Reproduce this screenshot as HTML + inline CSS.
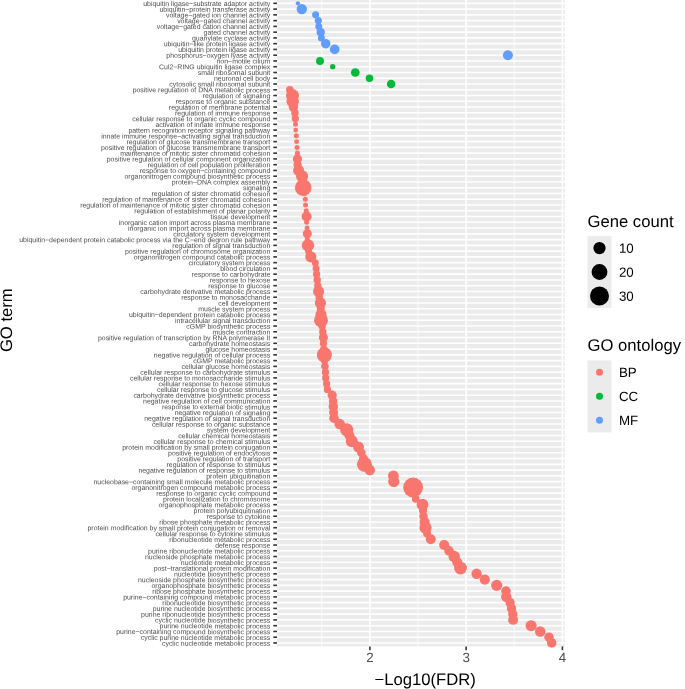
<!DOCTYPE html>
<html><head><meta charset="utf-8"><title>GO enrichment dot plot</title><style>
html,body{margin:0;padding:0;background:#fff;}
body{width:685px;height:689px;overflow:hidden;}
svg{display:block;will-change:transform;}
text{font-family:"Liberation Sans",sans-serif;}
</style></head><body>
<svg width="685" height="689" viewBox="0 0 685 689">
<rect x="0" y="0" width="685" height="689" fill="#fff"/>
<rect x="277.2" y="-0.2" width="287.70" height="646.60" fill="#EBEBEB"/>
<line x1="321.77" y1="-0.2" x2="321.77" y2="646.4" stroke="#fff" stroke-width="0.8"/>
<line x1="418.02" y1="-0.2" x2="418.02" y2="646.4" stroke="#fff" stroke-width="0.8"/>
<line x1="514.27" y1="-0.2" x2="514.27" y2="646.4" stroke="#fff" stroke-width="0.8"/>
<g stroke="#fff" stroke-width="1.6">
<line x1="277.2" y1="3.33" x2="564.9" y2="3.33"/><line x1="277.2" y1="9.09" x2="564.9" y2="9.09"/><line x1="277.2" y1="14.86" x2="564.9" y2="14.86"/><line x1="277.2" y1="20.62" x2="564.9" y2="20.62"/><line x1="277.2" y1="26.38" x2="564.9" y2="26.38"/><line x1="277.2" y1="32.14" x2="564.9" y2="32.14"/><line x1="277.2" y1="37.91" x2="564.9" y2="37.91"/><line x1="277.2" y1="43.67" x2="564.9" y2="43.67"/><line x1="277.2" y1="49.43" x2="564.9" y2="49.43"/><line x1="277.2" y1="55.19" x2="564.9" y2="55.19"/><line x1="277.2" y1="60.95" x2="564.9" y2="60.95"/><line x1="277.2" y1="66.72" x2="564.9" y2="66.72"/><line x1="277.2" y1="72.48" x2="564.9" y2="72.48"/><line x1="277.2" y1="78.24" x2="564.9" y2="78.24"/><line x1="277.2" y1="84.00" x2="564.9" y2="84.00"/><line x1="277.2" y1="89.77" x2="564.9" y2="89.77"/><line x1="277.2" y1="95.53" x2="564.9" y2="95.53"/><line x1="277.2" y1="101.29" x2="564.9" y2="101.29"/><line x1="277.2" y1="107.06" x2="564.9" y2="107.06"/><line x1="277.2" y1="112.82" x2="564.9" y2="112.82"/><line x1="277.2" y1="118.58" x2="564.9" y2="118.58"/><line x1="277.2" y1="124.34" x2="564.9" y2="124.34"/><line x1="277.2" y1="130.11" x2="564.9" y2="130.11"/><line x1="277.2" y1="135.87" x2="564.9" y2="135.87"/><line x1="277.2" y1="141.63" x2="564.9" y2="141.63"/><line x1="277.2" y1="147.39" x2="564.9" y2="147.39"/><line x1="277.2" y1="153.16" x2="564.9" y2="153.16"/><line x1="277.2" y1="158.92" x2="564.9" y2="158.92"/><line x1="277.2" y1="164.68" x2="564.9" y2="164.68"/><line x1="277.2" y1="170.44" x2="564.9" y2="170.44"/><line x1="277.2" y1="176.21" x2="564.9" y2="176.21"/><line x1="277.2" y1="181.97" x2="564.9" y2="181.97"/><line x1="277.2" y1="187.73" x2="564.9" y2="187.73"/><line x1="277.2" y1="193.49" x2="564.9" y2="193.49"/><line x1="277.2" y1="199.26" x2="564.9" y2="199.26"/><line x1="277.2" y1="205.02" x2="564.9" y2="205.02"/><line x1="277.2" y1="210.78" x2="564.9" y2="210.78"/><line x1="277.2" y1="216.54" x2="564.9" y2="216.54"/><line x1="277.2" y1="222.31" x2="564.9" y2="222.31"/><line x1="277.2" y1="228.07" x2="564.9" y2="228.07"/><line x1="277.2" y1="233.83" x2="564.9" y2="233.83"/><line x1="277.2" y1="239.59" x2="564.9" y2="239.59"/><line x1="277.2" y1="245.36" x2="564.9" y2="245.36"/><line x1="277.2" y1="251.12" x2="564.9" y2="251.12"/><line x1="277.2" y1="256.88" x2="564.9" y2="256.88"/><line x1="277.2" y1="262.64" x2="564.9" y2="262.64"/><line x1="277.2" y1="268.40" x2="564.9" y2="268.40"/><line x1="277.2" y1="274.17" x2="564.9" y2="274.17"/><line x1="277.2" y1="279.93" x2="564.9" y2="279.93"/><line x1="277.2" y1="285.69" x2="564.9" y2="285.69"/><line x1="277.2" y1="291.45" x2="564.9" y2="291.45"/><line x1="277.2" y1="297.22" x2="564.9" y2="297.22"/><line x1="277.2" y1="302.98" x2="564.9" y2="302.98"/><line x1="277.2" y1="308.74" x2="564.9" y2="308.74"/><line x1="277.2" y1="314.50" x2="564.9" y2="314.50"/><line x1="277.2" y1="320.27" x2="564.9" y2="320.27"/><line x1="277.2" y1="326.03" x2="564.9" y2="326.03"/><line x1="277.2" y1="331.79" x2="564.9" y2="331.79"/><line x1="277.2" y1="337.56" x2="564.9" y2="337.56"/><line x1="277.2" y1="343.32" x2="564.9" y2="343.32"/><line x1="277.2" y1="349.08" x2="564.9" y2="349.08"/><line x1="277.2" y1="354.84" x2="564.9" y2="354.84"/><line x1="277.2" y1="360.61" x2="564.9" y2="360.61"/><line x1="277.2" y1="366.37" x2="564.9" y2="366.37"/><line x1="277.2" y1="372.13" x2="564.9" y2="372.13"/><line x1="277.2" y1="377.89" x2="564.9" y2="377.89"/><line x1="277.2" y1="383.65" x2="564.9" y2="383.65"/><line x1="277.2" y1="389.42" x2="564.9" y2="389.42"/><line x1="277.2" y1="395.18" x2="564.9" y2="395.18"/><line x1="277.2" y1="400.94" x2="564.9" y2="400.94"/><line x1="277.2" y1="406.70" x2="564.9" y2="406.70"/><line x1="277.2" y1="412.47" x2="564.9" y2="412.47"/><line x1="277.2" y1="418.23" x2="564.9" y2="418.23"/><line x1="277.2" y1="423.99" x2="564.9" y2="423.99"/><line x1="277.2" y1="429.75" x2="564.9" y2="429.75"/><line x1="277.2" y1="435.52" x2="564.9" y2="435.52"/><line x1="277.2" y1="441.28" x2="564.9" y2="441.28"/><line x1="277.2" y1="447.04" x2="564.9" y2="447.04"/><line x1="277.2" y1="452.81" x2="564.9" y2="452.81"/><line x1="277.2" y1="458.57" x2="564.9" y2="458.57"/><line x1="277.2" y1="464.33" x2="564.9" y2="464.33"/><line x1="277.2" y1="470.09" x2="564.9" y2="470.09"/><line x1="277.2" y1="475.86" x2="564.9" y2="475.86"/><line x1="277.2" y1="481.62" x2="564.9" y2="481.62"/><line x1="277.2" y1="487.38" x2="564.9" y2="487.38"/><line x1="277.2" y1="493.14" x2="564.9" y2="493.14"/><line x1="277.2" y1="498.90" x2="564.9" y2="498.90"/><line x1="277.2" y1="504.67" x2="564.9" y2="504.67"/><line x1="277.2" y1="510.43" x2="564.9" y2="510.43"/><line x1="277.2" y1="516.19" x2="564.9" y2="516.19"/><line x1="277.2" y1="521.96" x2="564.9" y2="521.96"/><line x1="277.2" y1="527.72" x2="564.9" y2="527.72"/><line x1="277.2" y1="533.48" x2="564.9" y2="533.48"/><line x1="277.2" y1="539.24" x2="564.9" y2="539.24"/><line x1="277.2" y1="545.01" x2="564.9" y2="545.01"/><line x1="277.2" y1="550.77" x2="564.9" y2="550.77"/><line x1="277.2" y1="556.53" x2="564.9" y2="556.53"/><line x1="277.2" y1="562.29" x2="564.9" y2="562.29"/><line x1="277.2" y1="568.06" x2="564.9" y2="568.06"/><line x1="277.2" y1="573.82" x2="564.9" y2="573.82"/><line x1="277.2" y1="579.58" x2="564.9" y2="579.58"/><line x1="277.2" y1="585.34" x2="564.9" y2="585.34"/><line x1="277.2" y1="591.11" x2="564.9" y2="591.11"/><line x1="277.2" y1="596.87" x2="564.9" y2="596.87"/><line x1="277.2" y1="602.63" x2="564.9" y2="602.63"/><line x1="277.2" y1="608.39" x2="564.9" y2="608.39"/><line x1="277.2" y1="614.16" x2="564.9" y2="614.16"/><line x1="277.2" y1="619.92" x2="564.9" y2="619.92"/><line x1="277.2" y1="625.68" x2="564.9" y2="625.68"/><line x1="277.2" y1="631.44" x2="564.9" y2="631.44"/><line x1="277.2" y1="637.21" x2="564.9" y2="637.21"/><line x1="277.2" y1="642.97" x2="564.9" y2="642.97"/>
</g>
<line x1="369.90" y1="-0.2" x2="369.90" y2="646.4" stroke="#fff" stroke-width="1.6"/>
<line x1="466.15" y1="-0.2" x2="466.15" y2="646.4" stroke="#fff" stroke-width="1.6"/>
<line x1="562.40" y1="-0.2" x2="562.40" y2="646.4" stroke="#fff" stroke-width="1.6"/>
<g>
<circle cx="297.9" cy="3.33" r="2.15" fill="#619CFF"/><circle cx="301.8" cy="9.09" r="5.20" fill="#619CFF"/><circle cx="315.6" cy="14.86" r="3.50" fill="#619CFF"/><circle cx="318.3" cy="20.62" r="3.60" fill="#619CFF"/><circle cx="318.8" cy="26.38" r="3.50" fill="#619CFF"/><circle cx="320.7" cy="32.14" r="4.10" fill="#619CFF"/><circle cx="321.4" cy="37.91" r="3.50" fill="#619CFF"/><circle cx="325.7" cy="43.67" r="4.75" fill="#619CFF"/><circle cx="334.7" cy="49.43" r="4.85" fill="#619CFF"/><circle cx="507.9" cy="55.19" r="5.00" fill="#619CFF"/><circle cx="320.0" cy="60.95" r="3.95" fill="#00BA38"/><circle cx="332.7" cy="66.72" r="2.65" fill="#00BA38"/><circle cx="355.3" cy="72.48" r="4.35" fill="#00BA38"/><circle cx="369.5" cy="78.24" r="3.75" fill="#00BA38"/><circle cx="391.1" cy="84.00" r="4.25" fill="#00BA38"/><circle cx="289.8" cy="89.77" r="3.80" fill="#F8766D"/><circle cx="292.5" cy="95.53" r="6.50" fill="#F8766D"/><circle cx="292.7" cy="101.29" r="6.20" fill="#F8766D"/><circle cx="293.4" cy="107.06" r="4.70" fill="#F8766D"/><circle cx="294.9" cy="112.82" r="3.75" fill="#F8766D"/><circle cx="295.3" cy="118.58" r="3.65" fill="#F8766D"/><circle cx="295.5" cy="124.34" r="2.50" fill="#F8766D"/><circle cx="295.7" cy="130.11" r="2.40" fill="#F8766D"/><circle cx="296.3" cy="135.87" r="2.50" fill="#F8766D"/><circle cx="296.6" cy="141.63" r="2.45" fill="#F8766D"/><circle cx="297.0" cy="147.39" r="2.50" fill="#F8766D"/><circle cx="297.4" cy="153.16" r="2.55" fill="#F8766D"/><circle cx="297.4" cy="158.92" r="4.60" fill="#F8766D"/><circle cx="297.6" cy="164.68" r="4.15" fill="#F8766D"/><circle cx="298.6" cy="170.44" r="5.50" fill="#F8766D"/><circle cx="302.1" cy="176.21" r="6.00" fill="#F8766D"/><circle cx="302.5" cy="181.97" r="2.50" fill="#F8766D"/><circle cx="303.2" cy="187.73" r="8.30" fill="#F8766D"/><circle cx="304.5" cy="193.49" r="2.50" fill="#F8766D"/><circle cx="305.3" cy="199.26" r="2.50" fill="#F8766D"/><circle cx="305.5" cy="205.02" r="2.50" fill="#F8766D"/><circle cx="306.2" cy="210.78" r="2.50" fill="#F8766D"/><circle cx="306.6" cy="216.54" r="5.00" fill="#F8766D"/><circle cx="306.6" cy="222.31" r="2.50" fill="#F8766D"/><circle cx="307.1" cy="228.07" r="2.50" fill="#F8766D"/><circle cx="307.3" cy="233.83" r="4.55" fill="#F8766D"/><circle cx="307.3" cy="239.59" r="2.50" fill="#F8766D"/><circle cx="308.0" cy="245.36" r="6.20" fill="#F8766D"/><circle cx="308.5" cy="251.12" r="3.50" fill="#F8766D"/><circle cx="310.8" cy="256.88" r="5.55" fill="#F8766D"/><circle cx="315.3" cy="262.64" r="3.50" fill="#F8766D"/><circle cx="316.1" cy="268.40" r="3.50" fill="#F8766D"/><circle cx="316.6" cy="274.17" r="3.65" fill="#F8766D"/><circle cx="317.2" cy="279.93" r="3.70" fill="#F8766D"/><circle cx="317.8" cy="285.69" r="3.65" fill="#F8766D"/><circle cx="318.6" cy="291.45" r="5.55" fill="#F8766D"/><circle cx="319.2" cy="297.22" r="3.75" fill="#F8766D"/><circle cx="320.4" cy="302.98" r="5.60" fill="#F8766D"/><circle cx="320.7" cy="308.74" r="4.00" fill="#F8766D"/><circle cx="321.0" cy="314.50" r="5.50" fill="#F8766D"/><circle cx="321.0" cy="320.27" r="6.95" fill="#F8766D"/><circle cx="322.1" cy="326.03" r="3.75" fill="#F8766D"/><circle cx="322.8" cy="331.79" r="3.70" fill="#F8766D"/><circle cx="323.4" cy="337.56" r="4.55" fill="#F8766D"/><circle cx="323.4" cy="343.32" r="3.65" fill="#F8766D"/><circle cx="323.8" cy="349.08" r="3.65" fill="#F8766D"/><circle cx="324.4" cy="354.84" r="7.55" fill="#F8766D"/><circle cx="324.6" cy="360.61" r="3.75" fill="#F8766D"/><circle cx="324.9" cy="366.37" r="3.80" fill="#F8766D"/><circle cx="325.4" cy="372.13" r="3.65" fill="#F8766D"/><circle cx="325.7" cy="377.89" r="3.60" fill="#F8766D"/><circle cx="326.6" cy="383.65" r="3.60" fill="#F8766D"/><circle cx="327.4" cy="389.42" r="3.60" fill="#F8766D"/><circle cx="332.2" cy="395.18" r="4.60" fill="#F8766D"/><circle cx="333.1" cy="400.94" r="4.25" fill="#F8766D"/><circle cx="333.3" cy="406.70" r="4.75" fill="#F8766D"/><circle cx="333.6" cy="412.47" r="4.50" fill="#F8766D"/><circle cx="334.0" cy="418.23" r="4.75" fill="#F8766D"/><circle cx="339.7" cy="423.99" r="5.25" fill="#F8766D"/><circle cx="346.7" cy="429.75" r="6.55" fill="#F8766D"/><circle cx="349.5" cy="435.52" r="5.00" fill="#F8766D"/><circle cx="351.8" cy="441.28" r="6.00" fill="#F8766D"/><circle cx="358.5" cy="447.04" r="5.45" fill="#F8766D"/><circle cx="361.3" cy="452.81" r="4.25" fill="#F8766D"/><circle cx="363.5" cy="458.57" r="4.50" fill="#F8766D"/><circle cx="364.4" cy="464.33" r="7.45" fill="#F8766D"/><circle cx="369.8" cy="470.09" r="5.25" fill="#F8766D"/><circle cx="393.4" cy="475.86" r="5.40" fill="#F8766D"/><circle cx="393.8" cy="481.62" r="5.60" fill="#F8766D"/><circle cx="413.1" cy="487.38" r="9.90" fill="#F8766D"/><circle cx="413.5" cy="493.14" r="4.00" fill="#F8766D"/><circle cx="415.7" cy="498.90" r="3.80" fill="#F8766D"/><circle cx="422.5" cy="504.67" r="5.90" fill="#F8766D"/><circle cx="423.0" cy="510.43" r="4.00" fill="#F8766D"/><circle cx="423.5" cy="516.19" r="4.20" fill="#F8766D"/><circle cx="424.6" cy="521.96" r="5.00" fill="#F8766D"/><circle cx="425.5" cy="527.72" r="6.10" fill="#F8766D"/><circle cx="427.1" cy="533.48" r="4.00" fill="#F8766D"/><circle cx="430.8" cy="539.24" r="4.95" fill="#F8766D"/><circle cx="444.2" cy="545.01" r="5.05" fill="#F8766D"/><circle cx="449.0" cy="550.77" r="4.80" fill="#F8766D"/><circle cx="454.2" cy="556.53" r="5.70" fill="#F8766D"/><circle cx="457.3" cy="562.29" r="5.00" fill="#F8766D"/><circle cx="460.5" cy="568.06" r="6.40" fill="#F8766D"/><circle cx="476.6" cy="573.82" r="5.20" fill="#F8766D"/><circle cx="484.8" cy="579.58" r="5.10" fill="#F8766D"/><circle cx="496.7" cy="585.34" r="5.60" fill="#F8766D"/><circle cx="506.0" cy="591.11" r="4.80" fill="#F8766D"/><circle cx="506.3" cy="596.87" r="5.25" fill="#F8766D"/><circle cx="510.1" cy="602.63" r="4.65" fill="#F8766D"/><circle cx="511.5" cy="608.39" r="4.65" fill="#F8766D"/><circle cx="512.8" cy="614.16" r="4.65" fill="#F8766D"/><circle cx="513.1" cy="619.92" r="4.95" fill="#F8766D"/><circle cx="531.1" cy="625.68" r="5.55" fill="#F8766D"/><circle cx="540.2" cy="631.44" r="5.25" fill="#F8766D"/><circle cx="549.0" cy="637.21" r="4.75" fill="#F8766D"/><circle cx="551.7" cy="642.97" r="4.75" fill="#F8766D"/>
</g>
<g stroke="#333333" stroke-width="1.6">
<line x1="273.3" y1="3.33" x2="277.0" y2="3.33"/><line x1="273.3" y1="9.09" x2="277.0" y2="9.09"/><line x1="273.3" y1="14.86" x2="277.0" y2="14.86"/><line x1="273.3" y1="20.62" x2="277.0" y2="20.62"/><line x1="273.3" y1="26.38" x2="277.0" y2="26.38"/><line x1="273.3" y1="32.14" x2="277.0" y2="32.14"/><line x1="273.3" y1="37.91" x2="277.0" y2="37.91"/><line x1="273.3" y1="43.67" x2="277.0" y2="43.67"/><line x1="273.3" y1="49.43" x2="277.0" y2="49.43"/><line x1="273.3" y1="55.19" x2="277.0" y2="55.19"/><line x1="273.3" y1="60.95" x2="277.0" y2="60.95"/><line x1="273.3" y1="66.72" x2="277.0" y2="66.72"/><line x1="273.3" y1="72.48" x2="277.0" y2="72.48"/><line x1="273.3" y1="78.24" x2="277.0" y2="78.24"/><line x1="273.3" y1="84.00" x2="277.0" y2="84.00"/><line x1="273.3" y1="89.77" x2="277.0" y2="89.77"/><line x1="273.3" y1="95.53" x2="277.0" y2="95.53"/><line x1="273.3" y1="101.29" x2="277.0" y2="101.29"/><line x1="273.3" y1="107.06" x2="277.0" y2="107.06"/><line x1="273.3" y1="112.82" x2="277.0" y2="112.82"/><line x1="273.3" y1="118.58" x2="277.0" y2="118.58"/><line x1="273.3" y1="124.34" x2="277.0" y2="124.34"/><line x1="273.3" y1="130.11" x2="277.0" y2="130.11"/><line x1="273.3" y1="135.87" x2="277.0" y2="135.87"/><line x1="273.3" y1="141.63" x2="277.0" y2="141.63"/><line x1="273.3" y1="147.39" x2="277.0" y2="147.39"/><line x1="273.3" y1="153.16" x2="277.0" y2="153.16"/><line x1="273.3" y1="158.92" x2="277.0" y2="158.92"/><line x1="273.3" y1="164.68" x2="277.0" y2="164.68"/><line x1="273.3" y1="170.44" x2="277.0" y2="170.44"/><line x1="273.3" y1="176.21" x2="277.0" y2="176.21"/><line x1="273.3" y1="181.97" x2="277.0" y2="181.97"/><line x1="273.3" y1="187.73" x2="277.0" y2="187.73"/><line x1="273.3" y1="193.49" x2="277.0" y2="193.49"/><line x1="273.3" y1="199.26" x2="277.0" y2="199.26"/><line x1="273.3" y1="205.02" x2="277.0" y2="205.02"/><line x1="273.3" y1="210.78" x2="277.0" y2="210.78"/><line x1="273.3" y1="216.54" x2="277.0" y2="216.54"/><line x1="273.3" y1="222.31" x2="277.0" y2="222.31"/><line x1="273.3" y1="228.07" x2="277.0" y2="228.07"/><line x1="273.3" y1="233.83" x2="277.0" y2="233.83"/><line x1="273.3" y1="239.59" x2="277.0" y2="239.59"/><line x1="273.3" y1="245.36" x2="277.0" y2="245.36"/><line x1="273.3" y1="251.12" x2="277.0" y2="251.12"/><line x1="273.3" y1="256.88" x2="277.0" y2="256.88"/><line x1="273.3" y1="262.64" x2="277.0" y2="262.64"/><line x1="273.3" y1="268.40" x2="277.0" y2="268.40"/><line x1="273.3" y1="274.17" x2="277.0" y2="274.17"/><line x1="273.3" y1="279.93" x2="277.0" y2="279.93"/><line x1="273.3" y1="285.69" x2="277.0" y2="285.69"/><line x1="273.3" y1="291.45" x2="277.0" y2="291.45"/><line x1="273.3" y1="297.22" x2="277.0" y2="297.22"/><line x1="273.3" y1="302.98" x2="277.0" y2="302.98"/><line x1="273.3" y1="308.74" x2="277.0" y2="308.74"/><line x1="273.3" y1="314.50" x2="277.0" y2="314.50"/><line x1="273.3" y1="320.27" x2="277.0" y2="320.27"/><line x1="273.3" y1="326.03" x2="277.0" y2="326.03"/><line x1="273.3" y1="331.79" x2="277.0" y2="331.79"/><line x1="273.3" y1="337.56" x2="277.0" y2="337.56"/><line x1="273.3" y1="343.32" x2="277.0" y2="343.32"/><line x1="273.3" y1="349.08" x2="277.0" y2="349.08"/><line x1="273.3" y1="354.84" x2="277.0" y2="354.84"/><line x1="273.3" y1="360.61" x2="277.0" y2="360.61"/><line x1="273.3" y1="366.37" x2="277.0" y2="366.37"/><line x1="273.3" y1="372.13" x2="277.0" y2="372.13"/><line x1="273.3" y1="377.89" x2="277.0" y2="377.89"/><line x1="273.3" y1="383.65" x2="277.0" y2="383.65"/><line x1="273.3" y1="389.42" x2="277.0" y2="389.42"/><line x1="273.3" y1="395.18" x2="277.0" y2="395.18"/><line x1="273.3" y1="400.94" x2="277.0" y2="400.94"/><line x1="273.3" y1="406.70" x2="277.0" y2="406.70"/><line x1="273.3" y1="412.47" x2="277.0" y2="412.47"/><line x1="273.3" y1="418.23" x2="277.0" y2="418.23"/><line x1="273.3" y1="423.99" x2="277.0" y2="423.99"/><line x1="273.3" y1="429.75" x2="277.0" y2="429.75"/><line x1="273.3" y1="435.52" x2="277.0" y2="435.52"/><line x1="273.3" y1="441.28" x2="277.0" y2="441.28"/><line x1="273.3" y1="447.04" x2="277.0" y2="447.04"/><line x1="273.3" y1="452.81" x2="277.0" y2="452.81"/><line x1="273.3" y1="458.57" x2="277.0" y2="458.57"/><line x1="273.3" y1="464.33" x2="277.0" y2="464.33"/><line x1="273.3" y1="470.09" x2="277.0" y2="470.09"/><line x1="273.3" y1="475.86" x2="277.0" y2="475.86"/><line x1="273.3" y1="481.62" x2="277.0" y2="481.62"/><line x1="273.3" y1="487.38" x2="277.0" y2="487.38"/><line x1="273.3" y1="493.14" x2="277.0" y2="493.14"/><line x1="273.3" y1="498.90" x2="277.0" y2="498.90"/><line x1="273.3" y1="504.67" x2="277.0" y2="504.67"/><line x1="273.3" y1="510.43" x2="277.0" y2="510.43"/><line x1="273.3" y1="516.19" x2="277.0" y2="516.19"/><line x1="273.3" y1="521.96" x2="277.0" y2="521.96"/><line x1="273.3" y1="527.72" x2="277.0" y2="527.72"/><line x1="273.3" y1="533.48" x2="277.0" y2="533.48"/><line x1="273.3" y1="539.24" x2="277.0" y2="539.24"/><line x1="273.3" y1="545.01" x2="277.0" y2="545.01"/><line x1="273.3" y1="550.77" x2="277.0" y2="550.77"/><line x1="273.3" y1="556.53" x2="277.0" y2="556.53"/><line x1="273.3" y1="562.29" x2="277.0" y2="562.29"/><line x1="273.3" y1="568.06" x2="277.0" y2="568.06"/><line x1="273.3" y1="573.82" x2="277.0" y2="573.82"/><line x1="273.3" y1="579.58" x2="277.0" y2="579.58"/><line x1="273.3" y1="585.34" x2="277.0" y2="585.34"/><line x1="273.3" y1="591.11" x2="277.0" y2="591.11"/><line x1="273.3" y1="596.87" x2="277.0" y2="596.87"/><line x1="273.3" y1="602.63" x2="277.0" y2="602.63"/><line x1="273.3" y1="608.39" x2="277.0" y2="608.39"/><line x1="273.3" y1="614.16" x2="277.0" y2="614.16"/><line x1="273.3" y1="619.92" x2="277.0" y2="619.92"/><line x1="273.3" y1="625.68" x2="277.0" y2="625.68"/><line x1="273.3" y1="631.44" x2="277.0" y2="631.44"/><line x1="273.3" y1="637.21" x2="277.0" y2="637.21"/><line x1="273.3" y1="642.97" x2="277.0" y2="642.97"/>
</g>
<g stroke="#333333" stroke-width="1.6">
<line x1="369.90" y1="646.4" x2="369.90" y2="650.2"/><line x1="466.15" y1="646.4" x2="466.15" y2="650.2"/><line x1="562.40" y1="646.4" x2="562.40" y2="650.2"/>
</g>
<g>
<text x="270.30" y="5.95" font-size="6.94" fill="#4D4D4D" text-anchor="end" transform="rotate(0.03 270.30 5.95)">ubiquitin ligase−substrate adaptor activity</text>
<text x="270.30" y="11.71" font-size="6.94" fill="#4D4D4D" text-anchor="end" transform="rotate(0.03 270.30 11.71)">ubiquitin−protein transferase activity</text>
<text x="270.30" y="17.48" font-size="6.94" fill="#4D4D4D" text-anchor="end" transform="rotate(0.03 270.30 17.48)">voltage−gated ion channel activity</text>
<text x="270.30" y="23.24" font-size="6.94" fill="#4D4D4D" text-anchor="end" transform="rotate(0.03 270.30 23.24)">voltage−gated channel activity</text>
<text x="270.30" y="29.00" font-size="6.94" fill="#4D4D4D" text-anchor="end" transform="rotate(0.03 270.30 29.00)">voltage−gated cation channel activity</text>
<text x="270.30" y="34.77" font-size="6.94" fill="#4D4D4D" text-anchor="end" transform="rotate(0.03 270.30 34.77)">gated channel activity</text>
<text x="270.30" y="40.53" font-size="6.94" fill="#4D4D4D" text-anchor="end" transform="rotate(0.03 270.30 40.53)">guanylate cyclase activity</text>
<text x="270.30" y="46.30" font-size="6.94" fill="#4D4D4D" text-anchor="end" transform="rotate(0.03 270.30 46.30)">ubiquitin−like protein ligase activity</text>
<text x="270.30" y="52.06" font-size="6.94" fill="#4D4D4D" text-anchor="end" transform="rotate(0.03 270.30 52.06)">ubiquitin protein ligase activity</text>
<text x="270.30" y="57.82" font-size="6.94" fill="#4D4D4D" text-anchor="end" transform="rotate(0.03 270.30 57.82)">phosphorus−oxygen lyase activity</text>
<text x="270.30" y="63.59" font-size="6.94" fill="#4D4D4D" text-anchor="end" transform="rotate(0.03 270.30 63.59)">non−motile cilium</text>
<text x="270.30" y="69.35" font-size="6.94" fill="#4D4D4D" text-anchor="end" transform="rotate(0.03 270.30 69.35)">Cul2−RING ubiquitin ligase complex</text>
<text x="270.30" y="75.11" font-size="6.94" fill="#4D4D4D" text-anchor="end" transform="rotate(0.03 270.30 75.11)">small ribosomal subunit</text>
<text x="270.30" y="80.88" font-size="6.94" fill="#4D4D4D" text-anchor="end" transform="rotate(0.03 270.30 80.88)">neuronal cell body</text>
<text x="270.30" y="86.64" font-size="6.94" fill="#4D4D4D" text-anchor="end" transform="rotate(0.03 270.30 86.64)">cytosolic small ribosomal subunit</text>
<text x="270.30" y="92.40" font-size="6.94" fill="#4D4D4D" text-anchor="end" transform="rotate(0.03 270.30 92.40)">positive regulation of DNA metabolic process</text>
<text x="270.30" y="98.17" font-size="6.94" fill="#4D4D4D" text-anchor="end" transform="rotate(0.03 270.30 98.17)">regulation of signaling</text>
<text x="270.30" y="103.93" font-size="6.94" fill="#4D4D4D" text-anchor="end" transform="rotate(0.03 270.30 103.93)">response to organic substance</text>
<text x="270.30" y="109.69" font-size="6.94" fill="#4D4D4D" text-anchor="end" transform="rotate(0.03 270.30 109.69)">regulation of membrane potential</text>
<text x="270.30" y="115.46" font-size="6.94" fill="#4D4D4D" text-anchor="end" transform="rotate(0.03 270.30 115.46)">regulation of immune response</text>
<text x="270.30" y="121.22" font-size="6.94" fill="#4D4D4D" text-anchor="end" transform="rotate(0.03 270.30 121.22)">cellular response to organic cyclic compound</text>
<text x="270.30" y="126.99" font-size="6.94" fill="#4D4D4D" text-anchor="end" transform="rotate(0.03 270.30 126.99)">activation of innate immune response</text>
<text x="270.30" y="132.75" font-size="6.94" fill="#4D4D4D" text-anchor="end" transform="rotate(0.03 270.30 132.75)">pattern recognition receptor signaling pathway</text>
<text x="270.30" y="138.51" font-size="6.94" fill="#4D4D4D" text-anchor="end" transform="rotate(0.03 270.30 138.51)">innate immune response−activating signal transduction</text>
<text x="270.30" y="144.28" font-size="6.94" fill="#4D4D4D" text-anchor="end" transform="rotate(0.03 270.30 144.28)">regulation of glucose transmembrane transport</text>
<text x="270.30" y="150.04" font-size="6.94" fill="#4D4D4D" text-anchor="end" transform="rotate(0.03 270.30 150.04)">positive regulation of glucose transmembrane transport</text>
<text x="270.30" y="155.80" font-size="6.94" fill="#4D4D4D" text-anchor="end" transform="rotate(0.03 270.30 155.80)">maintenance of mitotic sister chromatid cohesion</text>
<text x="270.30" y="161.57" font-size="6.94" fill="#4D4D4D" text-anchor="end" transform="rotate(0.03 270.30 161.57)">positive regulation of cellular component organization</text>
<text x="270.30" y="167.33" font-size="6.94" fill="#4D4D4D" text-anchor="end" transform="rotate(0.03 270.30 167.33)">regulation of cell population proliferation</text>
<text x="270.30" y="173.09" font-size="6.94" fill="#4D4D4D" text-anchor="end" transform="rotate(0.03 270.30 173.09)">response to oxygen−containing compound</text>
<text x="270.30" y="178.86" font-size="6.94" fill="#4D4D4D" text-anchor="end" transform="rotate(0.03 270.30 178.86)">organonitrogen compound biosynthetic process</text>
<text x="270.30" y="184.62" font-size="6.94" fill="#4D4D4D" text-anchor="end" transform="rotate(0.03 270.30 184.62)">protein−DNA complex assembly</text>
<text x="270.30" y="190.39" font-size="6.94" fill="#4D4D4D" text-anchor="end" transform="rotate(0.03 270.30 190.39)">signaling</text>
<text x="270.30" y="196.15" font-size="6.94" fill="#4D4D4D" text-anchor="end" transform="rotate(0.03 270.30 196.15)">regulation of sister chromatid cohesion</text>
<text x="270.30" y="201.91" font-size="6.94" fill="#4D4D4D" text-anchor="end" transform="rotate(0.03 270.30 201.91)">regulation of maintenance of sister chromatid cohesion</text>
<text x="270.30" y="207.68" font-size="6.94" fill="#4D4D4D" text-anchor="end" transform="rotate(0.03 270.30 207.68)">regulation of maintenance of mitotic sister chromatid cohesion</text>
<text x="270.30" y="213.44" font-size="6.94" fill="#4D4D4D" text-anchor="end" transform="rotate(0.03 270.30 213.44)">regulation of establishment of planar polarity</text>
<text x="270.30" y="219.20" font-size="6.94" fill="#4D4D4D" text-anchor="end" transform="rotate(0.03 270.30 219.20)">tissue development</text>
<text x="270.30" y="224.97" font-size="6.94" fill="#4D4D4D" text-anchor="end" transform="rotate(0.03 270.30 224.97)">inorganic cation import across plasma membrane</text>
<text x="270.30" y="230.73" font-size="6.94" fill="#4D4D4D" text-anchor="end" transform="rotate(0.03 270.30 230.73)">inorganic ion import across plasma membrane</text>
<text x="270.30" y="236.49" font-size="6.94" fill="#4D4D4D" text-anchor="end" transform="rotate(0.03 270.30 236.49)">circulatory system development</text>
<text x="270.30" y="242.26" font-size="6.94" fill="#4D4D4D" text-anchor="end" transform="rotate(0.03 270.30 242.26)">ubiquitin−dependent protein catabolic process via the C−end degron rule pathway</text>
<text x="270.30" y="248.02" font-size="6.94" fill="#4D4D4D" text-anchor="end" transform="rotate(0.03 270.30 248.02)">regulation of signal transduction</text>
<text x="270.30" y="253.78" font-size="6.94" fill="#4D4D4D" text-anchor="end" transform="rotate(0.03 270.30 253.78)">positive regulation of chromosome organization</text>
<text x="270.30" y="259.55" font-size="6.94" fill="#4D4D4D" text-anchor="end" transform="rotate(0.03 270.30 259.55)">organonitrogen compound catabolic process</text>
<text x="270.30" y="265.31" font-size="6.94" fill="#4D4D4D" text-anchor="end" transform="rotate(0.03 270.30 265.31)">circulatory system process</text>
<text x="270.30" y="271.08" font-size="6.94" fill="#4D4D4D" text-anchor="end" transform="rotate(0.03 270.30 271.08)">blood circulation</text>
<text x="270.30" y="276.84" font-size="6.94" fill="#4D4D4D" text-anchor="end" transform="rotate(0.03 270.30 276.84)">response to carbohydrate</text>
<text x="270.30" y="282.60" font-size="6.94" fill="#4D4D4D" text-anchor="end" transform="rotate(0.03 270.30 282.60)">response to hexose</text>
<text x="270.30" y="288.37" font-size="6.94" fill="#4D4D4D" text-anchor="end" transform="rotate(0.03 270.30 288.37)">response to glucose</text>
<text x="270.30" y="294.13" font-size="6.94" fill="#4D4D4D" text-anchor="end" transform="rotate(0.03 270.30 294.13)">carbohydrate derivative metabolic process</text>
<text x="270.30" y="299.89" font-size="6.94" fill="#4D4D4D" text-anchor="end" transform="rotate(0.03 270.30 299.89)">response to monosaccharide</text>
<text x="270.30" y="305.66" font-size="6.94" fill="#4D4D4D" text-anchor="end" transform="rotate(0.03 270.30 305.66)">cell development</text>
<text x="270.30" y="311.42" font-size="6.94" fill="#4D4D4D" text-anchor="end" transform="rotate(0.03 270.30 311.42)">muscle system process</text>
<text x="270.30" y="317.18" font-size="6.94" fill="#4D4D4D" text-anchor="end" transform="rotate(0.03 270.30 317.18)">ubiquitin−dependent protein catabolic process</text>
<text x="270.30" y="322.95" font-size="6.94" fill="#4D4D4D" text-anchor="end" transform="rotate(0.03 270.30 322.95)">intracellular signal transduction</text>
<text x="270.30" y="328.71" font-size="6.94" fill="#4D4D4D" text-anchor="end" transform="rotate(0.03 270.30 328.71)">cGMP biosynthetic process</text>
<text x="270.30" y="334.48" font-size="6.94" fill="#4D4D4D" text-anchor="end" transform="rotate(0.03 270.30 334.48)">muscle contraction</text>
<text x="270.30" y="340.24" font-size="6.94" fill="#4D4D4D" text-anchor="end" transform="rotate(0.03 270.30 340.24)">positive regulation of transcription by RNA polymerase II</text>
<text x="270.30" y="346.00" font-size="6.94" fill="#4D4D4D" text-anchor="end" transform="rotate(0.03 270.30 346.00)">carbohydrate homeostasis</text>
<text x="270.30" y="351.77" font-size="6.94" fill="#4D4D4D" text-anchor="end" transform="rotate(0.03 270.30 351.77)">glucose homeostasis</text>
<text x="270.30" y="357.53" font-size="6.94" fill="#4D4D4D" text-anchor="end" transform="rotate(0.03 270.30 357.53)">negative regulation of cellular process</text>
<text x="270.30" y="363.29" font-size="6.94" fill="#4D4D4D" text-anchor="end" transform="rotate(0.03 270.30 363.29)">cGMP metabolic process</text>
<text x="270.30" y="369.06" font-size="6.94" fill="#4D4D4D" text-anchor="end" transform="rotate(0.03 270.30 369.06)">cellular glucose homeostasis</text>
<text x="270.30" y="374.82" font-size="6.94" fill="#4D4D4D" text-anchor="end" transform="rotate(0.03 270.30 374.82)">cellular response to carbohydrate stimulus</text>
<text x="270.30" y="380.58" font-size="6.94" fill="#4D4D4D" text-anchor="end" transform="rotate(0.03 270.30 380.58)">cellular response to monosaccharide stimulus</text>
<text x="270.30" y="386.35" font-size="6.94" fill="#4D4D4D" text-anchor="end" transform="rotate(0.03 270.30 386.35)">cellular response to hexose stimulus</text>
<text x="270.30" y="392.11" font-size="6.94" fill="#4D4D4D" text-anchor="end" transform="rotate(0.03 270.30 392.11)">cellular response to glucose stimulus</text>
<text x="270.30" y="397.87" font-size="6.94" fill="#4D4D4D" text-anchor="end" transform="rotate(0.03 270.30 397.87)">carbohydrate derivative biosynthetic process</text>
<text x="270.30" y="403.64" font-size="6.94" fill="#4D4D4D" text-anchor="end" transform="rotate(0.03 270.30 403.64)">negative regulation of cell communication</text>
<text x="270.30" y="409.40" font-size="6.94" fill="#4D4D4D" text-anchor="end" transform="rotate(0.03 270.30 409.40)">response to external biotic stimulus</text>
<text x="270.30" y="415.17" font-size="6.94" fill="#4D4D4D" text-anchor="end" transform="rotate(0.03 270.30 415.17)">negative regulation of signaling</text>
<text x="270.30" y="420.93" font-size="6.94" fill="#4D4D4D" text-anchor="end" transform="rotate(0.03 270.30 420.93)">negative regulation of signal transduction</text>
<text x="270.30" y="426.69" font-size="6.94" fill="#4D4D4D" text-anchor="end" transform="rotate(0.03 270.30 426.69)">cellular response to organic substance</text>
<text x="270.30" y="432.46" font-size="6.94" fill="#4D4D4D" text-anchor="end" transform="rotate(0.03 270.30 432.46)">system development</text>
<text x="270.30" y="438.22" font-size="6.94" fill="#4D4D4D" text-anchor="end" transform="rotate(0.03 270.30 438.22)">cellular chemical homeostasis</text>
<text x="270.30" y="443.98" font-size="6.94" fill="#4D4D4D" text-anchor="end" transform="rotate(0.03 270.30 443.98)">cellular response to chemical stimulus</text>
<text x="270.30" y="449.75" font-size="6.94" fill="#4D4D4D" text-anchor="end" transform="rotate(0.03 270.30 449.75)">protein modification by small protein conjugation</text>
<text x="270.30" y="455.51" font-size="6.94" fill="#4D4D4D" text-anchor="end" transform="rotate(0.03 270.30 455.51)">positive regulation of endocytosis</text>
<text x="270.30" y="461.27" font-size="6.94" fill="#4D4D4D" text-anchor="end" transform="rotate(0.03 270.30 461.27)">positive regulation of transport</text>
<text x="270.30" y="467.04" font-size="6.94" fill="#4D4D4D" text-anchor="end" transform="rotate(0.03 270.30 467.04)">regulation of response to stimulus</text>
<text x="270.30" y="472.80" font-size="6.94" fill="#4D4D4D" text-anchor="end" transform="rotate(0.03 270.30 472.80)">negative regulation of response to stimulus</text>
<text x="270.30" y="478.57" font-size="6.94" fill="#4D4D4D" text-anchor="end" transform="rotate(0.03 270.30 478.57)">protein ubiquitination</text>
<text x="270.30" y="484.33" font-size="6.94" fill="#4D4D4D" text-anchor="end" transform="rotate(0.03 270.30 484.33)">nucleobase−containing small molecule metabolic process</text>
<text x="270.30" y="490.09" font-size="6.94" fill="#4D4D4D" text-anchor="end" transform="rotate(0.03 270.30 490.09)">organonitrogen compound metabolic process</text>
<text x="270.30" y="495.86" font-size="6.94" fill="#4D4D4D" text-anchor="end" transform="rotate(0.03 270.30 495.86)">response to organic cyclic compound</text>
<text x="270.30" y="501.62" font-size="6.94" fill="#4D4D4D" text-anchor="end" transform="rotate(0.03 270.30 501.62)">protein localization to chromosome</text>
<text x="270.30" y="507.38" font-size="6.94" fill="#4D4D4D" text-anchor="end" transform="rotate(0.03 270.30 507.38)">organophosphate metabolic process</text>
<text x="270.30" y="513.15" font-size="6.94" fill="#4D4D4D" text-anchor="end" transform="rotate(0.03 270.30 513.15)">protein polyubiquitination</text>
<text x="270.30" y="518.91" font-size="6.94" fill="#4D4D4D" text-anchor="end" transform="rotate(0.03 270.30 518.91)">response to cytokine</text>
<text x="270.30" y="524.67" font-size="6.94" fill="#4D4D4D" text-anchor="end" transform="rotate(0.03 270.30 524.67)">ribose phosphate metabolic process</text>
<text x="270.30" y="530.44" font-size="6.94" fill="#4D4D4D" text-anchor="end" transform="rotate(0.03 270.30 530.44)">protein modification by small protein conjugation or removal</text>
<text x="270.30" y="536.20" font-size="6.94" fill="#4D4D4D" text-anchor="end" transform="rotate(0.03 270.30 536.20)">cellular response to cytokine stimulus</text>
<text x="270.30" y="541.96" font-size="6.94" fill="#4D4D4D" text-anchor="end" transform="rotate(0.03 270.30 541.96)">ribonucleotide metabolic process</text>
<text x="270.30" y="547.73" font-size="6.94" fill="#4D4D4D" text-anchor="end" transform="rotate(0.03 270.30 547.73)">defense response</text>
<text x="270.30" y="553.49" font-size="6.94" fill="#4D4D4D" text-anchor="end" transform="rotate(0.03 270.30 553.49)">purine ribonucleotide metabolic process</text>
<text x="270.30" y="559.26" font-size="6.94" fill="#4D4D4D" text-anchor="end" transform="rotate(0.03 270.30 559.26)">nucleoside phosphate metabolic process</text>
<text x="270.30" y="565.02" font-size="6.94" fill="#4D4D4D" text-anchor="end" transform="rotate(0.03 270.30 565.02)">nucleotide metabolic process</text>
<text x="270.30" y="570.78" font-size="6.94" fill="#4D4D4D" text-anchor="end" transform="rotate(0.03 270.30 570.78)">post−translational protein modification</text>
<text x="270.30" y="576.55" font-size="6.94" fill="#4D4D4D" text-anchor="end" transform="rotate(0.03 270.30 576.55)">nucleotide biosynthetic process</text>
<text x="270.30" y="582.31" font-size="6.94" fill="#4D4D4D" text-anchor="end" transform="rotate(0.03 270.30 582.31)">nucleoside phosphate biosynthetic process</text>
<text x="270.30" y="588.07" font-size="6.94" fill="#4D4D4D" text-anchor="end" transform="rotate(0.03 270.30 588.07)">organophosphate biosynthetic process</text>
<text x="270.30" y="593.84" font-size="6.94" fill="#4D4D4D" text-anchor="end" transform="rotate(0.03 270.30 593.84)">ribose phosphate biosynthetic process</text>
<text x="270.30" y="599.60" font-size="6.94" fill="#4D4D4D" text-anchor="end" transform="rotate(0.03 270.30 599.60)">purine−containing compound metabolic process</text>
<text x="270.30" y="605.36" font-size="6.94" fill="#4D4D4D" text-anchor="end" transform="rotate(0.03 270.30 605.36)">ribonucleotide biosynthetic process</text>
<text x="270.30" y="611.13" font-size="6.94" fill="#4D4D4D" text-anchor="end" transform="rotate(0.03 270.30 611.13)">purine nucleotide biosynthetic process</text>
<text x="270.30" y="616.89" font-size="6.94" fill="#4D4D4D" text-anchor="end" transform="rotate(0.03 270.30 616.89)">purine ribonucleotide biosynthetic process</text>
<text x="270.30" y="622.66" font-size="6.94" fill="#4D4D4D" text-anchor="end" transform="rotate(0.03 270.30 622.66)">cyclic nucleotide biosynthetic process</text>
<text x="270.30" y="628.42" font-size="6.94" fill="#4D4D4D" text-anchor="end" transform="rotate(0.03 270.30 628.42)">purine nucleotide metabolic process</text>
<text x="270.30" y="634.18" font-size="6.94" fill="#4D4D4D" text-anchor="end" transform="rotate(0.03 270.30 634.18)">purine−containing compound biosynthetic process</text>
<text x="270.30" y="639.95" font-size="6.94" fill="#4D4D4D" text-anchor="end" transform="rotate(0.03 270.30 639.95)">cyclic purine nucleotide metabolic process</text>
<text x="270.30" y="645.71" font-size="6.94" fill="#4D4D4D" text-anchor="end" transform="rotate(0.03 270.30 645.71)">cyclic nucleotide metabolic process</text>
</g>
<text x="369.90" y="662.10" font-size="13.33" fill="#4D4D4D" text-anchor="middle" transform="rotate(0.03 369.90 662.10)">2</text>
<text x="466.15" y="662.10" font-size="13.33" fill="#4D4D4D" text-anchor="middle" transform="rotate(0.03 466.15 662.10)">3</text>
<text x="562.40" y="662.10" font-size="13.33" fill="#4D4D4D" text-anchor="middle" transform="rotate(0.03 562.40 662.10)">4</text>
<text x="425.10" y="685.10" font-size="16.67" fill="#000" text-anchor="middle" transform="rotate(0.03 425.10 685.10)">−Log10(FDR)</text>
<text x="0" y="0" font-size="16.67" fill="#000" text-anchor="middle" transform="translate(12.0,320.2) rotate(-89.97)">GO term</text>
<text x="587.50" y="226.90" font-size="16.67" fill="#000" transform="rotate(0.03 587.50 226.90)">Gene count</text>
<rect x="587.5" y="236.1" width="24" height="72" fill="#EBEBEB"/>
<circle cx="599.5" cy="248.1" r="6.15" fill="#000"/><text x="618.90" y="252.87" font-size="13.33" fill="#000" transform="rotate(0.03 618.90 252.87)">10</text>
<circle cx="599.5" cy="272.0" r="7.95" fill="#000"/><text x="618.90" y="276.77" font-size="13.33" fill="#000" transform="rotate(0.03 618.90 276.77)">20</text>
<circle cx="599.5" cy="296.0" r="9.5" fill="#000"/><text x="618.90" y="300.77" font-size="13.33" fill="#000" transform="rotate(0.03 618.90 300.77)">30</text>
<text x="587.50" y="350.70" font-size="16.67" fill="#000" transform="rotate(0.03 587.50 350.70)">GO ontology</text>
<rect x="587.5" y="360.4" width="24" height="72" fill="#EBEBEB"/>
<circle cx="599.5" cy="372.3" r="3.5" fill="#F8766D"/><text x="618.90" y="376.90" font-size="13.33" fill="#000" transform="rotate(0.03 618.90 376.90)">BP</text>
<circle cx="599.5" cy="396.3" r="3.5" fill="#00BA38"/><text x="618.90" y="400.90" font-size="13.33" fill="#000" transform="rotate(0.03 618.90 400.90)">CC</text>
<circle cx="599.5" cy="420.3" r="3.5" fill="#619CFF"/><text x="618.90" y="424.90" font-size="13.33" fill="#000" transform="rotate(0.03 618.90 424.90)">MF</text>
</svg>
</body></html>
